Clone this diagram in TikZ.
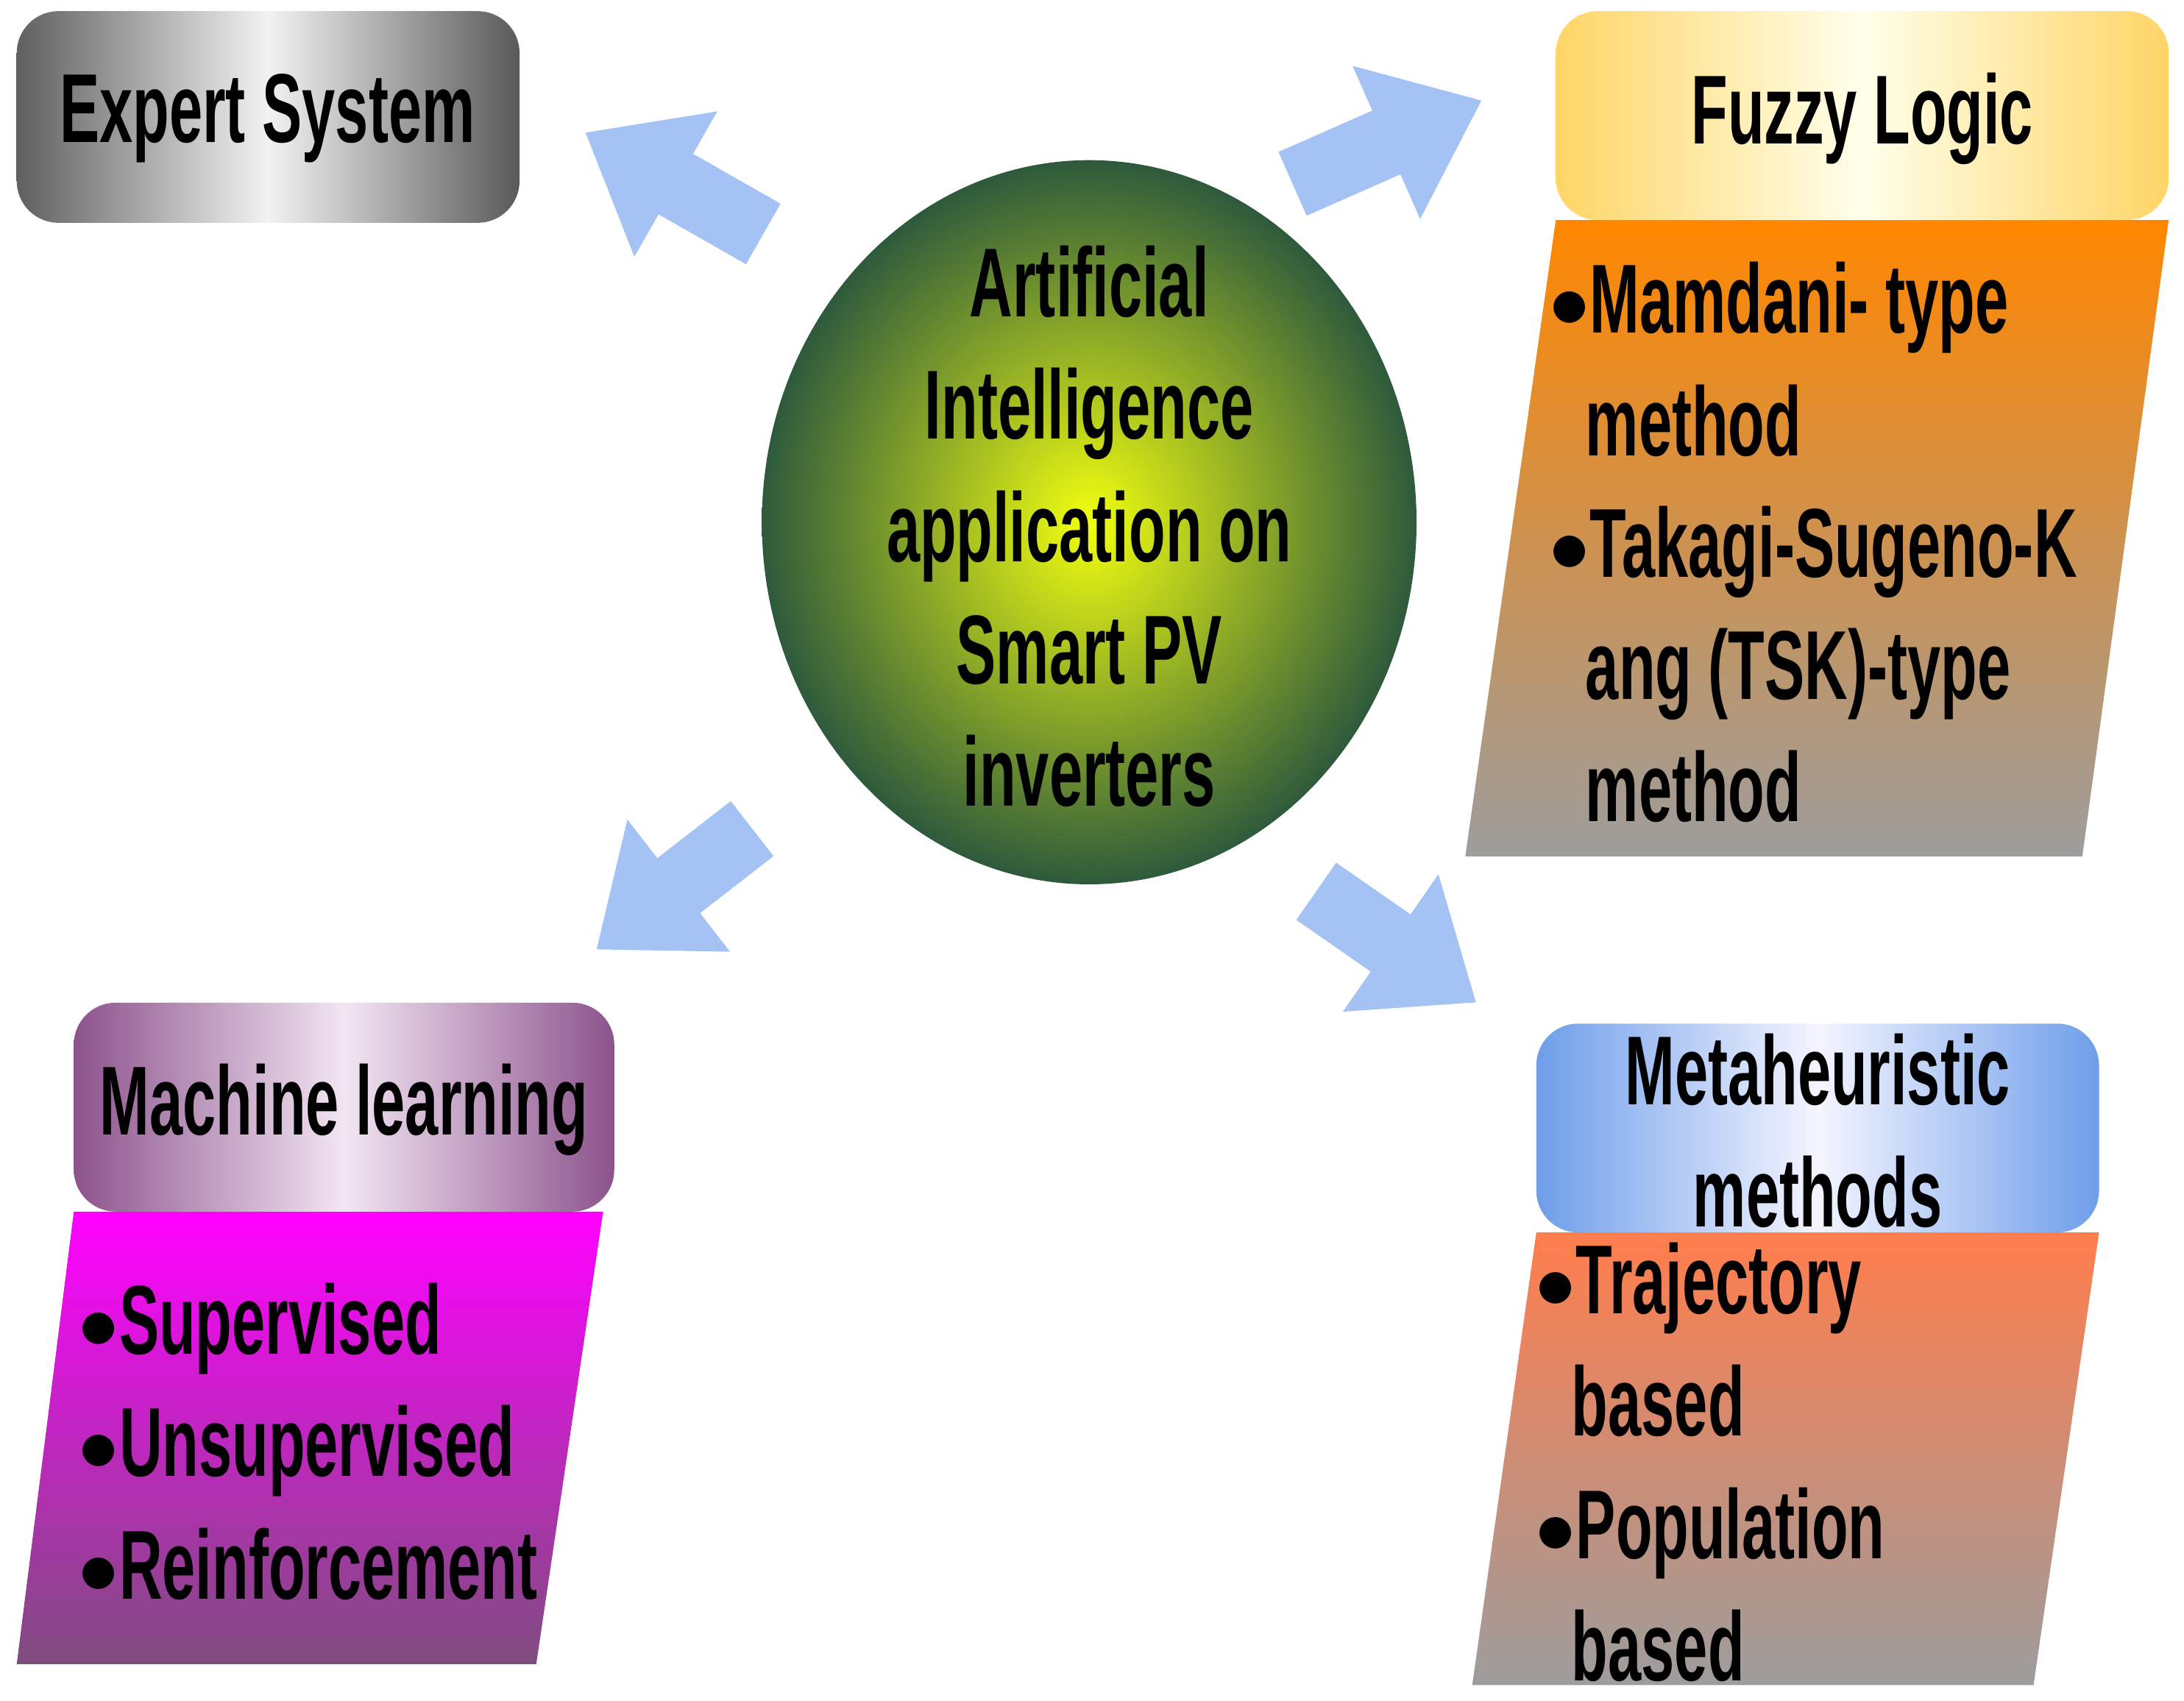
\documentclass[tikz,border=0pt]{standalone}
\usepackage{fontspec}
\setmainfont{Liberation Sans}[FakeStretch=0.61]
\usetikzlibrary{arrows.meta,shapes.geometric}
\definecolor{arrowblue}{HTML}{A4C2F4}
\definecolor{aigreen}{HTML}{2E5A3C}
\definecolor{aiyellow}{HTML}{F2FF10}
\definecolor{metablue}{HTML}{6E9EEA}
\newcommand{\pt}{\raisebox{0.1ex}{\scalebox{0.8}{$\bullet$}}}
\begin{document}
\begin{tikzpicture}[x=0.01cm,y=-0.01cm,
  every node/.style={font=\bfseries\fontsize{20}{25}\selectfont},
  blockarrow/.style={line width=0.5cm, arrowblue, -{Triangle[width=1.15cm,length=0.75cm]}},
  item/.style={anchor=west, align=left}
]
\useasboundingbox (0,0) rectangle (1568,1221);

% Arrows
\coordinate (a1s) at (548,168); \coordinate (a1e) at (420,95);
\coordinate (a2s) at (928,132); \coordinate (a2e) at (1064,72);
\coordinate (a3s) at (540,595); \coordinate (a3e) at (428,682);
\coordinate (a4s) at (945,640); \coordinate (a4e) at (1060,720);
\draw[blockarrow] (a1s) -- (a1e);
\draw[blockarrow] (a2s) -- (a2e);
\draw[blockarrow] (a3s) -- (a3e);
\draw[blockarrow] (a4s) -- (a4e);

% Centre
\shade[inner color=aiyellow, outer color=aigreen]
  (782,375) ellipse [x radius=235, y radius=260];
\node[align=center] (ai) at (782,378) {Artificial\\Intelligence\\application on\\Smart PV\\inverters};

% Expert system
\shade[rounded corners=0.3cm, left color=gray!75!black, right color=gray!70!black, middle color=gray!10]
  (12,8) rectangle (373,160);
\node (expert) at (192,85) {Expert System};

% Fuzzy logic
\shade[top color=orange!95!red!90!yellow, bottom color=gray!90!black!70]
  (1117,158) -- (1557,158) -- (1495,615) -- (1052,615) -- cycle;
\shade[rounded corners=0.3cm, left color=yellow!45!orange!60, right color=yellow!45!orange!60, middle color=yellow!8]
  (1117,8) rectangle (1557,158);
\node (fuzzy) at (1337,85) {Fuzzy Logic};
\node[item] (mamdani) at (1100,258) {\pt Mamdani- type\\\hspace{0.26cm}method};
\node[item] (tsk) at (1100,477) {\pt Takagi-Sugeno-K\\\hspace{0.26cm}ang (TSK)-type\\\hspace{0.26cm}method};

% Machine learning
\shade[top color=magenta, bottom color=violet!40!gray]
  (53,870) -- (433,870) -- (385,1195) -- (12,1195) -- cycle;
\shade[rounded corners=0.3cm, left color=violet!50!gray!90, right color=violet!50!gray!90, middle color=violet!10]
  (53,720) rectangle (441,870);
\node (ml) at (247,797) {Machine learning};
\node[item] (ml-items) at (44,1035) {\pt Supervised\\\pt Unsupervised\\\pt Reinforcement};

% Metaheuristic
\shade[top color=red!45!orange!70!white, bottom color=gray!90!black!70]
  (1103,885) -- (1507,885) -- (1460,1210) -- (1057,1210) -- cycle;
\shade[rounded corners=0.3cm, left color=metablue, right color=metablue, middle color=blue!4]
  (1103,735) rectangle (1507,885);
\node[align=center] (meta) at (1305,812) {Metaheuristic\\methods};
\node[item] (meta-items) at (1090,1050) {\pt Trajectory\\\hspace{0.26cm}based\\\pt Population\\\hspace{0.26cm}based};
\end{tikzpicture}
\end{document}
